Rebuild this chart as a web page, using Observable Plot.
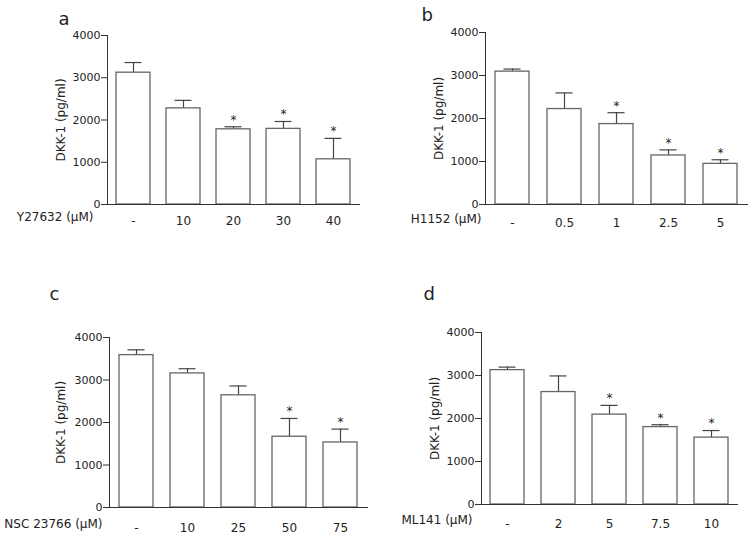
<!DOCTYPE html>
<html>
<head>
<meta charset="utf-8">
<script src="https://cdn.jsdelivr.net/npm/d3@7"></script>
<script src="https://cdn.jsdelivr.net/npm/@observablehq/plot@0.6"></script>
<style>
  html, body { margin: 0; padding: 0; background: white; }
  #fig { display: grid; grid-template-columns: 374px 374px; grid-template-rows: 267px 267px; width: 748px; height: 534px; }
  #fig svg { display: block; }
</style>
</head>
<body>
<div id="fig"></div>
<script>
// Panel a
const catsA = ["-", "10", "20", "30", "40"];
const meanA = [3120, 2275, 1780, 1790, 1070];
const errA  = [3360, 2465, 1840, 1965, 1565];
const sigA  = [false, false, true, true, true];
// Panel b
const catsB = ["-", "0.5", "1", "2.5", "5"];
const meanB = [3090, 2220, 1870, 1140, 945];
const errB  = [3150, 2595, 2135, 1270, 1040];
const sigB  = [false, false, true, true, true];
// Panel c
const catsC = ["-", "10", "25", "50", "75"];
const meanC = [3585, 3155, 2640, 1665, 1530];
const errC  = [3710, 3265, 2860, 2095, 1845];
const sigC  = [false, false, false, true, true];
// Panel d
const catsD = ["-", "2", "5", "7.5", "10"];
const meanD = [3125, 2615, 2090, 1800, 1555];
const errD  = [3195, 2990, 2305, 1855, 1720];
const sigD  = [false, false, true, true, true];

const yTicks = [0, 1000, 2000, 3000, 4000];
const yTitle = "DKK-1 (pg/ml)";

function panel(o) {
  const data = o.cats.map((c, i) => ({c, mean: o.mean[i], err: o.err[i], sig: o.sig[i]}));
  return Plot.plot({
    width: 374, height: 267,
    marginLeft: o.m[0], marginRight: o.m[1], marginTop: o.m[2], marginBottom: o.m[3],
    style: {fontFamily: "DejaVu Sans", fontSize: "12px", color: "#222", background: "white", overflow: "visible"},
    x: {domain: o.cats, paddingInner: o.pi, paddingOuter: o.po, label: null},
    y: {domain: [0, 4000], label: null},
    marks: [
      Plot.ruleX(data, {x: "c", y1: "mean", y2: "err", stroke: "#444", strokeWidth: 1.2}),
      Plot.tickY(data, {x: "c", y: "err", insetLeft: 8.5, insetRight: 8.5, stroke: "#444", strokeWidth: 1.2}),
      Plot.barY(data, {x: "c", y: "mean", fill: "white", stroke: "#666", strokeWidth: 1.3}),
      Plot.text(data.filter(d => d.sig), {x: "c", y: "err", text: () => "*", dy: -7, fontSize: 12, fill: "#222"}),
      Plot.frame({anchor: "left", stroke: "#333"}),
      Plot.frame({anchor: "bottom", stroke: "#333"}),
      Plot.axisY({ticks: yTicks, tickFormat: d => String(d), tickSize: 6, tickPadding: 1, label: null, fontSize: 11, stroke: "#333"}),
      Plot.axisX({tickSize: 0, tickPadding: o.tp, label: null, fontSize: 12}),
      Plot.text([o.xTitle], {text: d => d, frameAnchor: "bottom-left", textAnchor: "end", dx: o.titleDx, dy: o.tp + 4.5, fontSize: 12, fill: "#222"}),
      Plot.text([yTitle], {text: d => d, frameAnchor: "left", textAnchor: "middle", rotate: -90, dx: o.ylabDx, fontSize: 12, fill: "#222"}),
      Plot.text([o.letter], {text: d => d, frameAnchor: "top-left", textAnchor: "start", dx: o.lx - o.m[0], dy: o.lb - o.m[2] - 5.8, fontSize: 18, fill: "#222"})
    ]
  });
}

const fig = document.getElementById("fig");
fig.append(panel({letter: "a", cats: catsA, mean: meanA, err: errA, sig: sigA, xTitle: "Y27632 (μM)",
  m: [107, 15, 35, 63], pi: 0.327, po: 0.16, tp: 12.4, titleDx: -14, ylabDx: -46, lx: 58, lb: 18}));
fig.append(panel({letter: "b", cats: catsB, mean: meanB, err: errB, sig: sigB, xTitle: "H1152 (μM)",
  m: [111, 1, 32, 63], pi: 0.343, po: 0.17, tp: 14, titleDx: -4, ylabDx: -46, lx: 47, lb: 14}));
fig.append(panel({letter: "c", cats: catsC, mean: meanC, err: errC, sig: sigC, xTitle: "NSC 23766 (μM)",
  m: [109, 7, 70, 27], pi: 0.325, po: 0.19, tp: 15.7, titleDx: -7, ylabDx: -48.5, lx: 49, lb: 26}));
fig.append(panel({letter: "d", cats: catsD, mean: meanD, err: errD, sig: sigD, xTitle: "ML141 (μM)",
  m: [107, 11, 65, 30], pi: 0.34, po: 0.155, tp: 15.4, titleDx: -9, ylabDx: -46.5, lx: 49, lb: 26}));
</script>
</body>
</html>
